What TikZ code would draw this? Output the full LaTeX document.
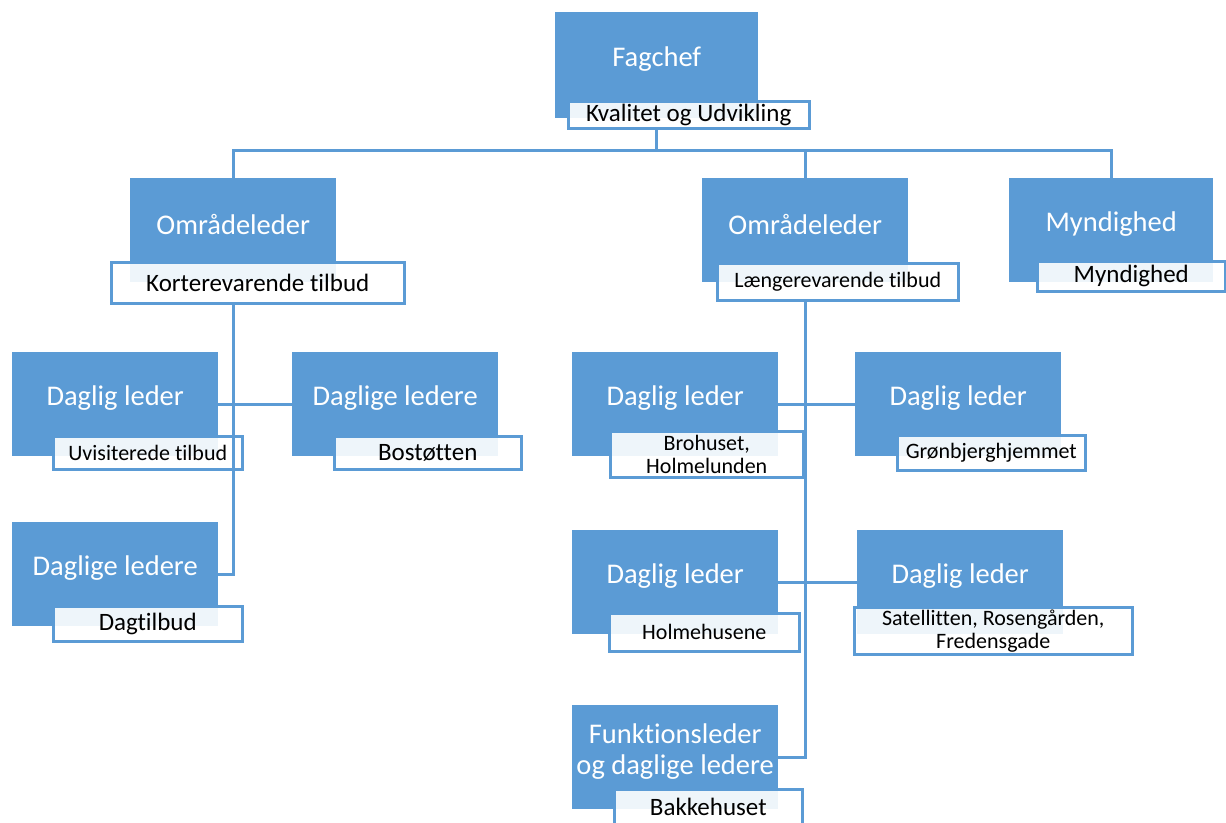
\documentclass[tikz,border=0pt]{standalone}
\usepackage{fontspec}
\setmainfont[Ligatures=NoCommon]{Carlito}
\definecolor{ocblue}{HTML}{5B9BD5}
\tikzset{
  head/.style={rectangle, fill=ocblue, anchor=north west, inner sep=0pt,
    minimum width=206pt, minimum height=104pt},
  headtext/.style={text=white, font=\fontsize{28.5}{31}\selectfont, align=center, yshift=6pt},
  tag/.style={rectangle, draw=ocblue, line width=2.5pt, fill=white, fill opacity=0.9,
    text opacity=1, anchor=north west, inner sep=0pt, align=center,
    font=\fontsize{25}{26}\selectfont},
  smalltag/.style={tag, font=\fontsize{22}{23}\selectfont},
  link/.style={draw=ocblue, line width=3pt}
}
\begin{document}
\begin{tikzpicture}[x=1pt, y=-1pt]
  \useasboundingbox (0,0) rectangle (1226,822);
  \clip (0,0) rectangle (1226,822);
  % top
  \node[head, minimum width=203pt, minimum height=106pt, label={[headtext]center:Fagchef}] (fag) at (555,12) {};
  \node[tag, minimum width=241pt, minimum height=27pt] (fagtag) at (567,100) {Kvalitet og Udvikling};
  % second row
  \node[head, label={[headtext]center:Områdeleder}] (omr1) at (130,178) {};
  \node[tag, minimum width=293pt, minimum height=41pt] (omr1tag) at (110,261) {Korterevarende tilbud};
  \node[head, label={[headtext]center:Områdeleder}] (omr2) at (702,178) {};
  \node[smalltag, minimum width=241pt, minimum height=37pt] (omr2tag) at (716,262) {Længerevarende tilbud};
  \node[head, minimum width=204pt, label={[headtext]center:Myndighed}] (mynd) at (1009,178) {};
  \node[tag, minimum width=188pt, minimum height=30pt] (myndtag) at (1036,260) {Myndighed};
  % left branch
  \node[head, label={[headtext]center:Daglig leder}] (dl1) at (12,352) {};
  \node[smalltag, minimum width=189pt, minimum height=33pt] (dl1tag) at (52,435) {Uvisiterede tilbud};
  \node[head, label={[headtext]center:Daglige ledere}] (dl2) at (12,522) {};
  \node[tag, minimum width=189pt, minimum height=35pt] (dl2tag) at (52,605) {Dagtilbud};
  \node[head, label={[headtext]center:Daglige ledere}] (dl3) at (292,352) {};
  \node[tag, minimum width=187pt, minimum height=33pt] (dl3tag) at (333,435) {Bostøtten};
  % right branch
  \node[head, label={[headtext]center:Daglig leder}] (dl4) at (572,352) {};
  \node[smalltag, minimum width=193pt, minimum height=46pt] (dl4tag) at (609,430) {Brohuset,\\Holmelunden};
  \node[head, label={[headtext]center:Daglig leder}] (dl5) at (855,352) {};
  \node[smalltag, minimum width=188pt, minimum height=35pt] (dl5tag) at (896,434) {Grønbjerghjemmet};
  \node[head, label={[headtext]center:Daglig leder}] (dl6) at (572,530) {};
  \node[smalltag, minimum width=190pt, minimum height=38pt] (dl6tag) at (608,612) {Holmehusene};
  \node[head, label={[headtext]center:Daglig leder}] (dl7) at (857,530) {};
  \node[smalltag, minimum width=278pt, minimum height=47pt] (dl7tag) at (853,606) {Satellitten, Rosengården,\\Fredensgade};
  \node[head, label={[headtext]center:Funktionsleder\\og daglige ledere}] (fl) at (572,705) {};
  \node[tag, minimum width=188pt, minimum height=36pt] (fltag) at (613,788) {Bakkehuset};
  % connectors
  \draw[link] (fag.south |- fagtag.south) -- ++(0,21) coordinate (bus);
  \draw[link] (omr1.north) |- (bus) -| (mynd.north);
  \draw[link] (bus) -| (omr2.north);
  \draw[link] (omr1.south |- omr1tag.south) |- (dl2.east);
  \draw[link] (dl1.east) -- (dl3.west);
  \draw[link] (omr2.south |- omr2tag.south) |- (fl.east);
  \draw[link] (dl4.east) -- (dl5.west);
  \draw[link] (dl6.east) -- (dl7.west);
\end{tikzpicture}
\end{document}
